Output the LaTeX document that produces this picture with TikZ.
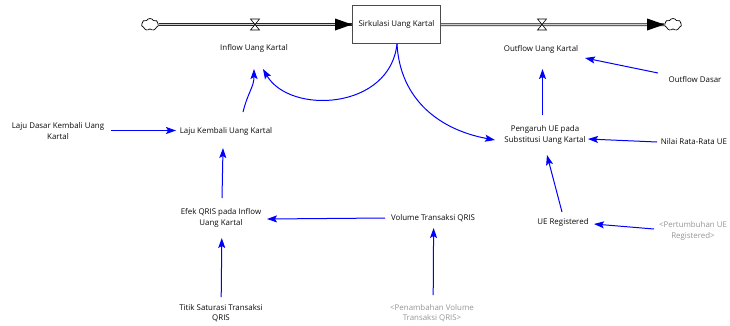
\documentclass[tikz,border=0pt]{standalone}
\usepackage{fontspec}
\setmainfont{Open Sans}
\usetikzlibrary{arrows.meta,calc,shapes.symbols}
\definecolor{lnk}{RGB}{0,0,255}
\definecolor{txt}{RGB}{10,10,10}
\definecolor{ghosttxt}{RGB}{150,150,150}
\tikzset{
  lbl/.style={font=\fontsize{7.9}{10.5}\selectfont, text=txt, align=center, inner sep=0pt},
  ghost/.style={lbl, text=ghosttxt},
  link/.style={draw=lnk, line width=1pt, -{Stealth[length=10pt,width=7pt,inset=2pt]}},
  pipe/.style={draw=black!85, line width=0.6pt, double=white!80!black, double distance=1.8pt},
  stockbox/.style={draw=black!70, line width=0.8pt, fill=white, minimum width=88pt, minimum height=38pt, inner sep=0pt, font=\fontsize{7.9}{10.5}\selectfont, text=txt},
  cloudshape/.style={cloud, cloud puffs=7, cloud puff arc=120, aspect=1.5, draw=black, line width=0.7pt, fill=white, inner sep=0pt, minimum width=17pt, minimum height=12pt},
  valve/.style={draw=black, line width=0.6pt, fill=white, line join=miter},
  flowhead/.style={fill=black}
}
\begin{document}
\begin{tikzpicture}[x=1pt,y=-1pt]
\useasboundingbox (0,0) rectangle (730,325);
% stock and flows
\node[stockbox] (stock) at (396.5,24.5) {Sirkulasi Uang Kartal};
\node[cloudshape] (src) at (150,24.5) {};
\node[cloudshape] (snk) at (673,24.5) {};
\draw[pipe] (src.east) -- (stock.west);
\fill[flowhead] (stock.west) -- ++(-17,-6) -- ++(0,12) -- cycle;
\draw[pipe] (stock.east) -- (snk.west);
\fill[flowhead] (snk.west) -- ++(-17,-6) -- ++(0,12) -- cycle;
\coordinate (v1) at (255,24.5);
\coordinate (v2) at (542,24.5);
\draw[valve] ($(v1)+(-4.5,-5.5)$) -- ++(9,0) -- ++(-9,11) -- ++(9,0) -- cycle;
\draw[valve] ($(v2)+(-4.5,-5.5)$) -- ++(9,0) -- ++(-9,11) -- ++(9,0) -- cycle;
% variables
\node[lbl] (inflow) at (254,48) {Inflow Uang Kartal};
\node[lbl] (outflow) at (541,49) {Outflow Uang Kartal};
\node[lbl] (odasar) at (695,80) {Outflow Dasar};
\node[lbl] (pengaruh) at (545,135) {Pengaruh UE pada\\Substitusi Uang Kartal};
\node[lbl] (nilai) at (694,142) {Nilai Rata-Rata UE};
\node[lbl] (uereg) at (563,222) {UE Registered};
\node[ghost] (pert) at (693,231) {<Pertumbuhan UE\\Registered>};
\node[lbl] (ldasar) at (58,131) {Laju Dasar Kembali Uang\\Kartal};
\node[lbl] (laju) at (226,131) {Laju Kembali Uang Kartal};
\node[lbl] (efek) at (221,218) {Efek QRIS pada Inflow\\Uang Kartal};
\node[lbl] (volume) at (433,218) {Volume Transaksi QRIS};
\node[lbl] (titik) at (221,313) {Titik Saturasi Transaksi\\QRIS};
\node[ghost] (penamb) at (432,313) {<Penambahan Volume\\Transaksi QRIS>};
% links
\draw[link] ($(ldasar)+(53,-0.5)$) -- ($(laju)+(-50,-0.5)$);
\draw[link] ($(laju)+(17,-19)$) .. controls +(5,-20) and +(0,18) .. ($(inflow)+(0,21)$);
\draw[link] ($(stock.south)+(0.5,0)$) .. controls +(-7,66) and +(27,46) .. ($(inflow)+(9,21)$);
\draw[link] ($(stock.south)+(0.5,0)$) .. controls +(3,56) and +(-55,-10) .. ($(pengaruh)+(-50,5)$);
\draw[link] ($(pengaruh)+(-2.5,-20)$) -- ($(outflow)+(1.5,20)$);
\draw[link] ($(odasar)+(-37,-7)$) -- ($(outflow)+(44,9)$);
\draw[link] ($(nilai)+(-37,0)$) -- ($(pengaruh)+(43,4)$);
\draw[link] ($(uereg)+(-1,-10)$) -- ($(pengaruh)+(2,20)$);
\draw[link] ($(pert)+(-39,-2)$) -- ($(uereg)+(31,2)$);
\draw[link] ($(volume)+(-48,0)$) -- ($(efek)+(46,1)$);
\draw[link] ($(penamb)+(1.2,-18)$) -- ($(volume)+(0.6,10)$);
\draw[link] ($(titik)+(0.2,-16)$) -- ($(efek)+(0.8,20)$);
\draw[link] ($(efek)+(1,-20)$) -- ($(laju)+(-3,17)$);
\end{tikzpicture}
\end{document}
